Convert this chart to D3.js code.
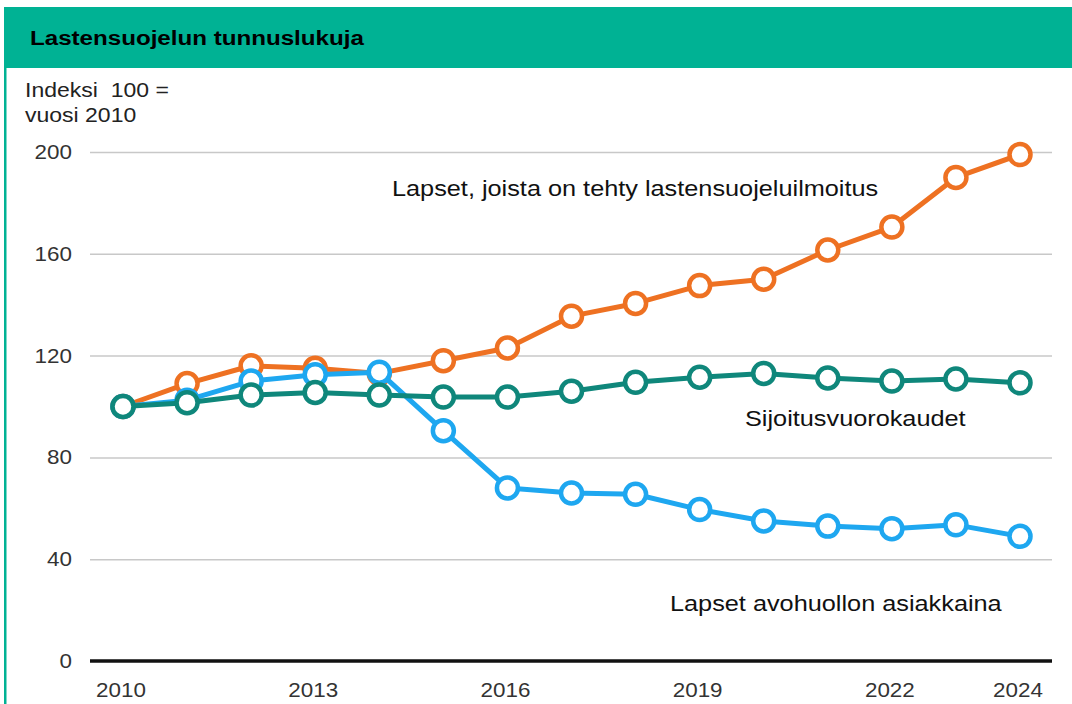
<!DOCTYPE html>
<html>
<head>
<meta charset="utf-8">
<script src="https://d3js.org/d3.v7.min.js"></script>
<style>
  body { margin: 0; background: #fff; }
  svg text { font-family: "Liberation Sans", Arial, sans-serif; white-space: pre; }
  .grid line { stroke: #c8c8c8; stroke-width: 1.5px; }
</style>
</head>
<body>
<svg width="1072" height="704"></svg>
<script>
// years on x axis
var years = [2010, 2011, 2012, 2013, 2014, 2015, 2016, 2017, 2018, 2019, 2020, 2021, 2022, 2023, 2024];
var yearTicks = [2010, 2013, 2016, 2019, 2022, 2024];
var valueTicks = [0, 40, 80, 120, 160, 200];

// index, 2010 = 100
var ilmoitus = [100, 109, 116, 115, 113, 118, 123, 135.5, 140.5, 147.5, 150, 161.5, 170.5, 190, 199];
var avohuolto = [100, 102.5, 110, 112.5, 113.5, 90.5, 68, 66, 65.5, 59.5, 55, 53, 52, 53.5, 49];
var sijoitus = [100, 101.5, 104.5, 105.5, 104.5, 103.7, 103.7, 106, 109.5, 111.5, 113, 111.2, 110, 110.8, 109.3];

var seriesNames = ["Lapset, joista on tehty lastensuojeluilmoitus", "Lapset avohuollon asiakkaina", "Sijoitusvuorokaudet"];
var seriesColors = ["#ee7122", "#1ea7f0", "#0f877b"];

var svg = d3.select("svg");
var sx = 1.15; // the reference text is a bit wide

function txt(px, py, s, size, anchor, color, weight) {
    return svg.append("text")
        .attr("transform", "translate(" + px + "," + py + ") scale(" + sx + ",1)")
        .attr("text-anchor", anchor || "start")
        .style("font-size", size + "px")
        .style("font-weight", weight || "normal")
        .attr("fill", color || "#222")
        .text(s);
}

// header band + frame
svg.append("rect").attr("x", 4).attr("y", 7).attr("width", 1068).attr("height", 61).attr("fill", "#00b294");
svg.append("rect").attr("x", 4).attr("y", 68).attr("width", 2.5).attr("height", 636).attr("fill", "#00b294");
txt(30, 45, "Lastensuojelun tunnuslukuja", 21, "start", "#000", "bold");

txt(25, 97, "Indeksi  100 =", 20);
txt(25, 122, "vuosi 2010", 20);

var x = d3.scaleLinear().domain([2010, 2024]).range([123, 1020]);
var y = d3.scaleLinear().domain([0, 200]).range([661, 152]);

// grid
svg.append("g").attr("class", "grid")
    .attr("transform", "translate(90,0)")
    .call(d3.axisLeft(y).tickValues(valueTicks.slice(1)).tickSize(-(1052 - 90)).tickFormat(""))
    .call(g => g.select(".domain").remove());

// y labels
valueTicks.forEach(function(v) {
    txt(72, y(v) + 7, String(v), 19.5, "end", "#333");
});

// base axis line
svg.append("line").attr("x1", 90).attr("x2", 1052).attr("y1", y(0)).attr("y2", y(0))
    .attr("stroke", "#111").attr("stroke-width", 3.5);

// x labels
yearTicks.forEach(function(t) {
    txt(x(t) - 2, 697, String(t), 19.5, "middle", "#333");
});

var line = d3.line().x((d, i) => x(years[i])).y(d => y(d));

[ilmoitus, avohuolto, sijoitus].forEach(function(vals, k) {
    var g = svg.append("g");
    g.append("path").datum(vals).attr("d", line)
        .attr("fill", "none").attr("stroke", seriesColors[k]).attr("stroke-width", 5)
        .attr("stroke-linejoin", "round");
    g.selectAll("circle").data(vals).enter().append("circle")
        .attr("cx", (d, i) => x(years[i])).attr("cy", d => y(d)).attr("r", 10.5)
        .attr("fill", "#fff").attr("stroke", seriesColors[k]).attr("stroke-width", 4.5);
});

// series labels
txt(392, 196, seriesNames[0], 22, "start", "#111");
txt(670, 611, seriesNames[1], 22, "start", "#111");
txt(745, 426, seriesNames[2], 22, "start", "#111");
</script>
</body>
</html>
